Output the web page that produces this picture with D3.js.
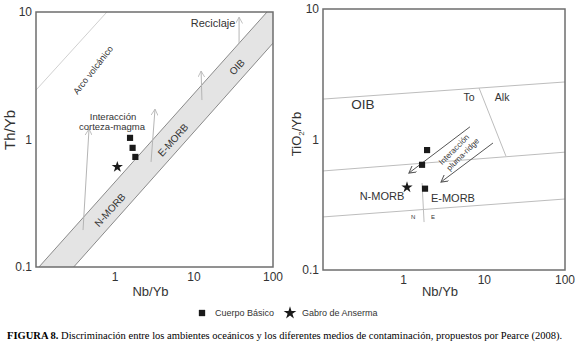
<!DOCTYPE html>
<html>
<head>
<meta charset="utf-8">
<script src="https://cdn.jsdelivr.net/npm/d3@7/dist/d3.min.js"></script>
<style>
  body { margin: 0; background: #fff; }
  svg { display: block; }
  text { font-family: "Liberation Sans", Arial, sans-serif; fill: #333; }
</style>
</head>
<body>
<svg id="chart" width="575" height="349"></svg>
<script>
// ---- data ----
const tickValues = [0.1, 1, 10, 100];
const xTickLabels = ['', '1', '10', '100'];
const yTickLabels = ['0.1', '1', '10'];

// left panel: Th/Yb vs Nb/Yb
const cuerpoLeft = [[1.55, 1.03], [1.67, 0.86], [1.81, 0.73]];
const gabroLeft = [[1.07, 0.61]];
const arcLine = [[0.1, 2.44], [0.79, 10]];
const arrayUpper = [[0.109, 0.1], [84, 10]];
const arrayLower = [[0.30, 0.1], [100, 5.7]];
const arrayBand = [[0.109, 0.1], [84, 10], [100, 10], [100, 5.7], [0.30, 0.1]];
const leftArrows = [
  [[0.394, 0.195], [0.469, 1.21]],
  [[2.86, 0.667], [3.21, 1.73]],
  [[12.6, 2.04], [12.3, 3.44]],
  [[37.2, 5.7], [37.2, 9.1]]
];
const leftLabels = [
  { t: 'Reciclaje', x: 17.4, y: 8.2, size: 11, rot: 0 },
  { t: 'Arco volcánico', x: 0.527, y: 3.51, size: 9, rot: -52 },
  { t: 'Interacción', x: 0.944, y: 1.50, size: 9.5, rot: 0 },
  { t: 'corteza-magma', x: 0.916, y: 1.25, size: 9.5, rot: 0 },
  { t: 'N-MORB', x: 0.865, y: 0.28, size: 10, rot: -48 },
  { t: 'E-MORB', x: 5.42, y: 0.99, size: 10, rot: -48 },
  { t: 'OIB', x: 35, y: 3.7, size: 10, rot: -48 }
];

// right panel: TiO2/Yb vs Nb/Yb
const cuerpoRight = [[1.95, 0.83], [1.69, 0.64], [1.84, 0.42]];
const gabroRight = [[1.10, 0.43]];
const rightLines = [
  [[0.1, 2.04], [100, 2.76]],
  [[8.6, 2.48], [18.5, 0.748]],
  [[0.1, 0.574], [100, 0.80]],
  [[0.1, 0.255], [100, 0.35]],
  [[1.69, 0.464], [1.79, 0.233]]
];
const rightArrows = [
  [[6.63, 1.25], [1.16, 0.553]],
  [[12.8, 0.94], [2.90, 0.472]]
];
const rightLabels = [
  { t: 'OIB', x: 0.313, y: 1.87, size: 13.5, rot: 0 },
  { t: 'To', x: 6.45, y: 2.12, size: 10.5, rot: 0 },
  { t: 'Alk', x: 16.6, y: 2.12, size: 10.5, rot: 0 },
  { t: 'N-MORB', x: 0.538, y: 0.369, size: 11, rot: 0 },
  { t: 'E-MORB', x: 4.08, y: 0.356, size: 11, rot: 0 },
  { t: 'N', x: 1.31, y: 0.255, size: 6, rot: 0 },
  { t: 'E', x: 2.31, y: 0.255, size: 6, rot: 0 },
  { t: 'Interacción', x: 4.2, y: 0.84, size: 8, rot: -45 },
  { t: 'pluma-ridge', x: 5.4, y: 0.77, size: 8, rot: -45 }
];

const svg = d3.select('#chart');

const defs = svg.append('defs');
function addMarker(id, color, size) {
  defs.append('marker')
    .attr('id', id)
    .attr('viewBox', '0 0 10 10')
    .attr('refX', 9).attr('refY', 5)
    .attr('markerUnits', 'userSpaceOnUse')
    .attr('markerWidth', size).attr('markerHeight', size)
    .attr('orient', 'auto')
    .append('path')
    .attr('d', 'M0,0 L9,5 L0,10')
    .attr('fill', 'none')
    .attr('stroke', color)
    .attr('stroke-width', 1.2);
}
addMarker('headLight', '#b5b5b5', 7);
addMarker('headDark', '#555', 8);

function panel(opts) {
  const x = d3.scaleLog().domain([0.1, 100]).range([opts.x0, opts.x1]);
  const y = d3.scaleLog().domain([0.1, 10]).range([opts.y1, opts.y0]);
  const g = svg.append('g');
  const line = d3.line().x(d => x(d[0])).y(d => y(d[1]));

  // tick labels
  g.selectAll('.xt').data(tickValues.slice(1)).enter().append('text')
    .attr('x', d => x(d)).attr('y', opts.y1 + 14)
    .attr('text-anchor', 'middle').attr('font-size', 12)
    .text((d, i) => xTickLabels[i + 1]);
  g.selectAll('.yt').data(tickValues.slice(0, 3)).enter().append('text')
    .attr('x', opts.x0 - 4).attr('y', d => y(d))
    .attr('dy', '0.35em')
    .attr('text-anchor', 'end').attr('font-size', 12)
    .text((d, i) => yTickLabels[i]);

  // axis titles
  g.append('text')
    .attr('x', (opts.x0 + opts.x1) / 2 - 4).attr('y', 296)
    .attr('text-anchor', 'middle').attr('font-size', 13)
    .text('Nb/Yb');
  const yt = g.append('text')
    .attr('transform', `translate(${opts.yTitleX},${opts.yTitleY}) rotate(-90)`)
    .attr('text-anchor', 'middle').attr('font-size', opts.yTitleSize);
  opts.yTitle(yt);

  return { x, y, g, line };
}

function drawLabels(p, labels) {
  p.g.selectAll('.lbl').data(labels).enter().append('text')
    .attr('transform', d => `translate(${p.x(d.x)},${p.y(d.y)}) rotate(${d.rot})`)
    .attr('text-anchor', 'middle')
    .attr('dy', '0.35em')
    .attr('font-size', d => d.size)
    .text(d => d.t);
}

function drawPoints(p, squares, stars) {
  p.g.selectAll('.sq').data(squares).enter().append('path')
    .attr('d', d3.symbol().type(d3.symbolSquare).size(38))
    .attr('transform', d => `translate(${p.x(d[0])},${p.y(d[1])})`)
    .attr('fill', '#1a1a1a');
  p.g.selectAll('.st').data(stars).enter().append('path')
    .attr('d', d3.symbol().type(d3.symbolStar).size(40))
    .attr('transform', d => `translate(${p.x(d[0])},${p.y(d[1])})`)
    .attr('fill', '#1a1a1a');
}

// ---- left panel ----
const L = panel({
  x0: 36, x1: 273, y0: 12, y1: 267,
  yTitleX: 15, yTitleY: 130, yTitleSize: 15,
  yTitle: t => t.text('Th/Yb')
});
const clipL = defs.append('clipPath').attr('id', 'clipL');
clipL.append('rect').attr('x', 36).attr('y', 12).attr('width', 237).attr('height', 255);
const gl = L.g.append('g').attr('clip-path', 'url(#clipL)');
gl.append('path').datum(arrayBand).attr('d', L.line).attr('fill', '#e4e4e4').attr('stroke', 'none');
gl.append('path').datum(arrayUpper).attr('d', L.line).attr('fill', 'none').attr('stroke', '#8a8a8a').attr('stroke-width', 1);
gl.append('path').datum(arrayLower).attr('d', L.line).attr('fill', 'none').attr('stroke', '#8a8a8a').attr('stroke-width', 1);
gl.append('path').datum(arcLine).attr('d', L.line).attr('fill', 'none').attr('stroke', '#d0d0d0').attr('stroke-width', 1);
gl.selectAll('.ar').data(leftArrows).enter().append('path')
  .attr('d', L.line).attr('fill', 'none')
  .attr('stroke', '#b5b5b5').attr('stroke-width', 1)
  .attr('marker-end', 'url(#headLight)');
drawLabels(L, leftLabels);
drawPoints(L, cuerpoLeft, gabroLeft);
L.g.append('rect').attr('x', 36).attr('y', 12).attr('width', 237).attr('height', 255)
  .attr('fill', 'none').attr('stroke', '#6e6e6e').attr('stroke-width', 1.5);

// ---- right panel ----
const R = panel({
  x0: 323, x1: 565, y0: 9, y1: 270,
  yTitleX: 301, yTitleY: 134, yTitleSize: 13,
  yTitle: t => {
    t.append('tspan').text('TiO');
    t.append('tspan').attr('font-size', 8).attr('dy', 3).text('2');
    t.append('tspan').attr('dy', -3).text('/Yb');
  }
});
const gr = R.g.append('g');
gr.selectAll('.rl').data(rightLines).enter().append('path')
  .attr('d', R.line).attr('fill', 'none')
  .attr('stroke', '#bdbdbd').attr('stroke-width', 1);
gr.selectAll('.ra').data(rightArrows).enter().append('path')
  .attr('d', R.line).attr('fill', 'none')
  .attr('stroke', '#555').attr('stroke-width', 1)
  .attr('marker-end', 'url(#headDark)');
drawLabels(R, rightLabels);
drawPoints(R, cuerpoRight, gabroRight);
R.g.append('rect').attr('x', 323).attr('y', 9).attr('width', 242).attr('height', 261)
  .attr('fill', 'none').attr('stroke', '#6e6e6e').attr('stroke-width', 1.5);

// ---- legend ----
const leg = svg.append('g');
leg.append('path').attr('d', d3.symbol().type(d3.symbolSquare).size(40))
  .attr('transform', 'translate(202,313)').attr('fill', '#1a1a1a');
leg.append('text').attr('x', 215).attr('y', 313).attr('dy', '0.35em')
  .attr('font-size', 9).text('Cuerpo Básico');
leg.append('path').attr('d', d3.symbol().type(d3.symbolStar).size(50))
  .attr('transform', 'translate(290,313)').attr('fill', '#1a1a1a');
leg.append('text').attr('x', 302).attr('y', 313).attr('dy', '0.35em')
  .attr('font-size', 9).text('Gabro de Anserma');

// ---- caption: size the font so it spans the same width as the original ----
const cap = svg.append('text')
  .attr('x', 7).attr('y', 339)
  .style('font-family', '"Liberation Serif", "Times New Roman", serif')
  .style('fill', '#000')
  .attr('font-size', 11);
cap.append('tspan').attr('font-weight', 'bold').text('FIGURA 8.');
cap.append('tspan').text(' Discriminación entre los ambientes oceánicos y los diferentes medios de contaminación, propuestos por Pearce (2008).');
const natural = cap.node().getComputedTextLength();
cap.attr('font-size', Math.min(11, 11 * 556 / natural));
</script>
</body>
</html>
